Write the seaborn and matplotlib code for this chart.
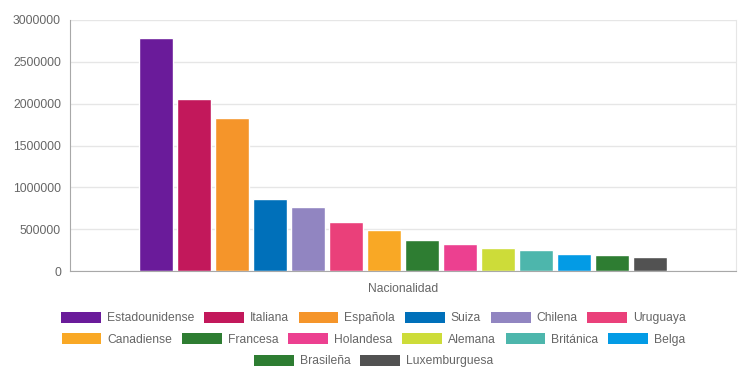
"""Bar chart of totals by nationality (one category, one bar per nationality)."""

import matplotlib.pyplot as plt
from matplotlib.patches import Patch
from matplotlib.ticker import FuncFormatter, MultipleLocator
import pandas as pd
import seaborn as sns

nacionalidades = ["Estadounidense", "Italiana", "Española", "Suiza", "Chilena",
                  "Uruguaya", "Canadiense", "Francesa", "Holandesa", "Alemana",
                  "Británica", "Belga", "Brasileña", "Luxemburguesa"]
valores = [2785000, 2060000, 1825000, 855000, 770000, 582000, 495000,
           375000, 322000, 275000, 248000, 208000, 192000, 172000]
colores = ["#6a1b9a", "#c2185b", "#f5952a", "#0070ba", "#9185c1", "#ea407a",
           "#f9a825", "#2e7d32", "#ec4090", "#cddc39", "#4db6ac", "#039be5",
           "#2e7d32", "#525252"]
categoria = "Nacionalidad"
filas_leyenda = [6, 6, 2]

TEXT = "#666666"
GRID = "#e6e6e6"


def main():
    sns.set_style("white")
    plt.rcParams["font.family"] = ["Liberation Sans", "DejaVu Sans"]

    df = pd.DataFrame({"grupo": [categoria] * len(valores),
                       "nacionalidad": nacionalidades,
                       "valor": valores})

    fig = plt.figure(figsize=(7.49, 3.79), dpi=100)
    ax = fig.add_axes([70 / 749, 1 - 271 / 379, 666 / 749, 251 / 379])
    sns.barplot(data=df, x="grupo", y="valor", hue="nacionalidad",
                hue_order=nacionalidades, palette=colores, width=0.8, gap=0.1,
                saturation=1, legend=False, errorbar=None, ax=ax)

    ax.set_xlim(-0.5, 0.5)
    ax.set_ylim(0, 3000000)
    ax.yaxis.set_major_locator(MultipleLocator(500000))
    ax.yaxis.set_major_formatter(FuncFormatter(lambda v, p: f"{int(v)}"))
    ax.set_xlabel("")
    ax.set_ylabel("")

    ax.grid(axis="y", color=GRID, lw=1)
    ax.set_axisbelow(True)
    ax.spines["top"].set_visible(False)
    ax.spines["right"].set_color(GRID)
    ax.spines["left"].set_color("#a8a8a8")
    ax.spines["bottom"].set_color("#a8a8a8")

    ax.tick_params(axis="y", length=4.5, width=1, color=GRID,
                   labelsize=8.7, labelcolor=TEXT, pad=2)
    ax.set_xticks([0])
    ax.set_xticklabels([categoria])
    ax.set_xticks([-0.5, 0.5], minor=True)
    ax.tick_params(axis="x", which="major", length=0, labelsize=8.7,
                   labelcolor=TEXT, pad=9)
    ax.tick_params(axis="x", which="minor", length=8.5, width=1, color=GRID)

    # legend drawn row by row, each row centred like the original
    ys = [318, 339.5, 361]
    start = 0
    for n, y in zip(filas_leyenda, ys):
        handles = [Patch(facecolor=c, edgecolor="none")
                   for c in colores[start:start + n]]
        fig.legend(handles, nacionalidades[start:start + n], loc="center",
                   bbox_to_anchor=(373.5 / 749, 1 - y / 379), ncol=n,
                   frameon=False, fontsize=8.7, labelcolor=TEXT,
                   handlelength=3.3, handleheight=1.05, handletextpad=0.5,
                   columnspacing=0.8, borderpad=0, borderaxespad=0)
        start += n

    fig.savefig("out.png", dpi=100, facecolor="white")
    plt.close(fig)


if __name__ == "__main__":
    main()
